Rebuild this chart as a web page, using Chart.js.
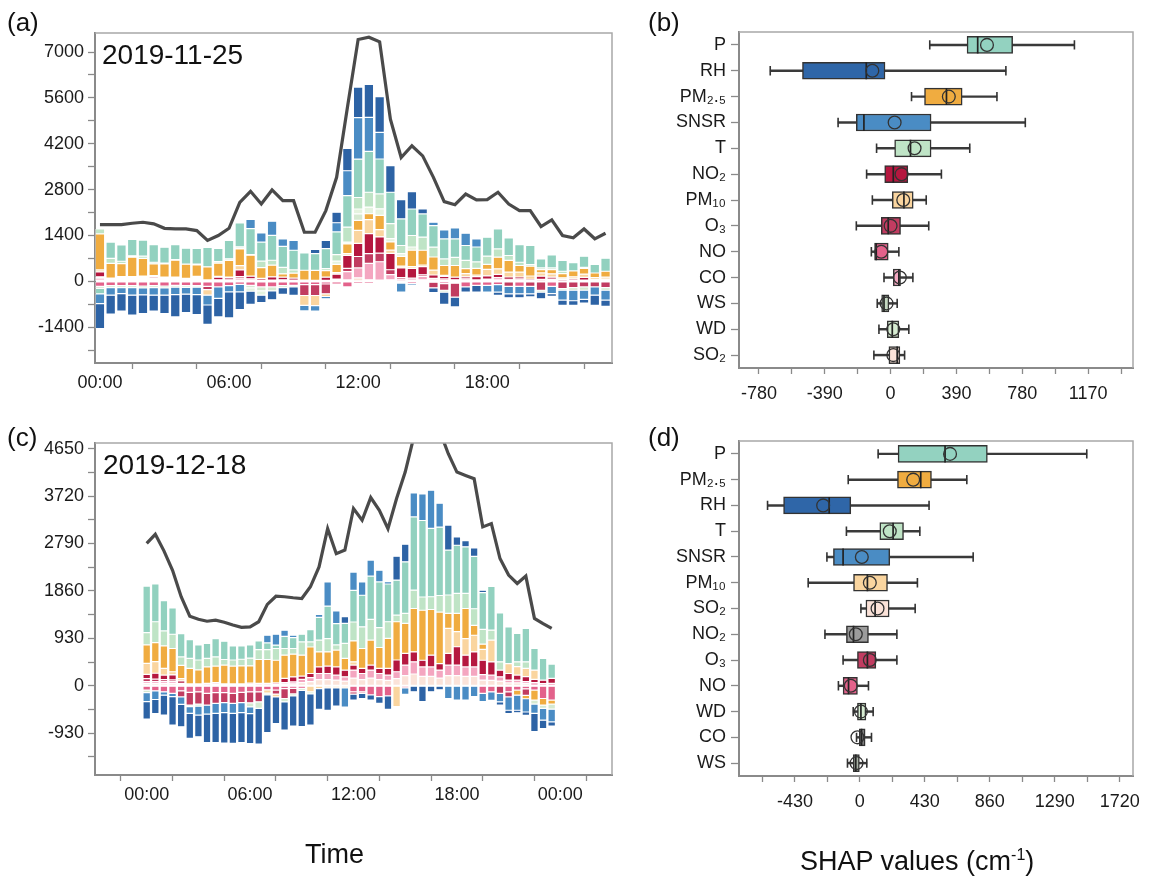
<!DOCTYPE html>
<html><head><meta charset="utf-8">
<script src="https://cdn.jsdelivr.net/npm/chart.js@4/dist/chart.umd.min.js"></script>
<style>
body{margin:0;width:1168px;height:878px;background:#fff;position:relative;overflow:hidden;font-family:"Liberation Sans",Arial,sans-serif;color:#111;}
canvas{position:absolute;}
.t{position:absolute;line-height:1;white-space:nowrap;}
</style></head><body>
<canvas id="ca" width="640" height="400" style="left:0;top:0"></canvas>
<canvas id="cb" width="548" height="420" style="left:620px;top:0"></canvas>
<canvas id="cc" width="640" height="458" style="left:0;top:420px"></canvas>
<canvas id="cd" width="548" height="458" style="left:620px;top:420px"></canvas>
<div class="t" style="left:7px;top:9px;font-size:26px">(a)</div>
<div class="t" style="left:648px;top:9px;font-size:26px">(b)</div>
<div class="t" style="left:7px;top:424px;font-size:26px">(c)</div>
<div class="t" style="left:648px;top:424px;font-size:26px">(d)</div>
<div class="t" style="left:102px;top:41px;font-size:28px">2019-11-25</div>
<div class="t" style="left:103px;top:451px;font-size:28px">2019-12-18</div>
<div class="t" style="left:305px;top:841px;font-size:27px">Time</div>
<div class="t" style="left:800px;top:847px;font-size:27px">SHAP values (cm<sup style="font-size:16px">-1</sup>)</div>
<script>
// ---------- data ----------
const hours = [0,0.5,1,1.5,2,2.5,3,3.5,4,4.5,5,5.5,6,6.5,7,7.5,8,8.5,9,9.5,10,10.5,11,11.5,12,12.5,13,13.5,14,14.5,15,15.5,16,16.5,17,17.5,18,18.5,19,19.5,20,20.5,21,21.5,22,22.5,23,23.5];
const featureNames = ['SO2','CO','NO','O3','NO2','PM10','PM2.5','WS','WD','T','P','SNSR','RH'];

// panel (a) 2019-11-25
const aSO2 = [40,20,30,30,30,40,30,25,20,25,15,25,20,40,30,0,0,0,0,0,0,0,0,46,110,50,40,50,0,40,50,45,25,20,30,0,30,45,25,30,0,0,30,0,0,0,0,0];
const aCO = [60,20,30,30,30,40,30,30,20,30,15,25,30,60,50,40,40,50,40,20,15,30,30,250,300,500,560,155,65,60,100,50,50,30,50,45,40,70,40,45,25,60,40,20,30,40,17,30];
const aNO = [-150,-130,-130,-130,-140,-130,-140,-120,-130,-130,-150,-170,-130,-90,-120,-170,-170,-130,-120,-100,-100,-80,-80,-170,-70,-70,-20,-20,-50,-70,-20,-25,-70,-55,-170,-120,-120,-100,0,-150,0,0,-150,0,0,0,0,0];
const aO3 = [40,20,25,30,30,30,25,20,15,30,-100,0,0,50,0,0,0,0,0,-330,-330,-300,40,100,350,300,260,150,50,0,50,-170,-200,-425,0,0,0,0,-150,0,-150,-270,0,-220,-190,-170,-170,-190];
const aNO2 = [150,20,30,30,40,40,25,40,20,40,15,80,60,200,80,50,100,80,60,20,20,100,150,400,400,610,500,500,300,300,250,100,80,80,60,100,100,100,70,60,40,100,60,40,50,80,40,40];
const aPM10 = [60,20,30,30,30,30,25,20,20,30,-170,25,20,130,0,0,0,0,0,-300,-310,-80,50,50,400,425,220,100,50,50,50,150,30,0,100,50,200,170,150,150,100,100,100,50,60,100,60,60];
const aPM25 = [1100,450,400,590,540,355,400,510,430,350,400,400,510,510,640,330,355,100,150,300,300,200,250,300,300,180,435,250,300,500,450,400,300,355,150,200,150,355,355,200,300,100,130,130,180,180,140,180];
const aWS = [-60,-60,-60,-60,-60,-60,-60,-55,-50,-45,0,0,0,0,-80,-120,-120,-60,-50,0,0,0,0,0,200,0,0,0,0,0,0,0,-60,0,0,0,0,0,0,0,0,-60,0,-50,-80,-100,0,-80];
const aWD = [0,0,0,0,0,0,0,0,0,0,0,0,0,15,-100,-130,0,0,0,0,0,0,100,50,150,200,200,100,80,100,0,0,0,0,0,0,0,0,0,0,0,0,0,0,0,0,0,0];
const aT = [150,150,70,40,70,50,20,20,0,20,0,50,50,50,20,200,150,200,100,0,0,60,200,460,350,455,455,455,250,350,400,300,200,250,250,200,250,250,150,100,50,50,50,70,0,25,0,0];
const aP = [-170,500,500,500,490,540,490,460,490,480,590,400,560,730,790,580,760,640,600,530,510,610,690,960,1170,1250,1065,960,810,810,710,660,610,560,455,455,580,610,540,540,580,280,400,330,250,345,260,400];
const aSNSR = [-300,-230,-180,-230,-210,-230,-220,-230,-210,-230,-300,-350,-190,-230,280,280,430,230,300,-170,-170,-70,280,760,1270,1035,810,0,-275,-50,0,100,275,335,375,250,-205,-225,-230,-230,-230,0,-220,-300,-320,-280,-250,-300];
const aRH = [-760,-580,-540,-610,-570,-490,-560,-680,-560,-610,-590,-565,-795,-540,-400,-230,-270,-205,-255,0,130,250,320,680,930,1010,1095,810,590,530,150,-150,-370,-300,-155,-205,0,-100,-120,-120,-95,-200,-85,-160,-140,-110,-310,-190];
const lineA = [1735,1735,1735,1775,1805,1755,1620,1600,1600,1550,1250,1400,1620,2410,2750,2360,2790,2465,2465,1500,1500,2160,3175,5300,7380,7450,7310,4950,3780,4140,3830,3175,2435,2340,2665,2485,2495,2720,2360,2160,2160,1675,1875,1400,1330,1600,1300,1470];
const aYTicks = [-2100,-1400,-700,0,700,1400,2100,2800,3500,4200,4900,5600,6300,7000];
const aYLabels = [-1400,0,1400,2800,4200,5600,7000];
const aXTicks = [0,3,6,9,12,15,18,21];

// panel (c) 2019-12-18
const cSO2 = [40,40,40,40,25,15,15,20,30,15,15,15,25,20,20,25,30,35,60,80,120,120,110,90,150,120,150,120,105,140,200,230,185,185,150,200,200,185,185,110,105,90,55,55,40,0,0,0];
const cCO = [40,40,40,40,20,20,20,25,30,20,20,20,25,25,25,30,30,40,65,80,120,120,100,85,155,120,155,120,105,135,205,240,185,185,155,205,205,185,185,110,105,85,55,55,40,60,40,45];
const cNO = [-85,-100,-120,-150,-100,-130,-120,-150,-135,-135,-150,-130,-120,-120,-80,-85,-55,-50,-50,0,0,0,0,0,-120,-120,-180,-215,-200,0,-40,0,0,0,0,0,0,0,0,-150,-120,0,-120,-85,-60,-85,-250,-280];
const cO3 = [60,50,40,35,-120,-250,-240,-230,-210,-195,-195,-200,-215,-195,0,-80,-195,-110,0,0,0,0,0,0,-45,-30,0,0,0,0,0,0,0,0,0,0,0,0,0,0,0,-150,-100,0,-130,0,0,0];
const cNO2 = [85,115,90,100,50,0,0,0,0,0,0,0,0,0,0,0,85,100,65,80,130,145,160,130,100,100,100,100,130,230,230,195,130,230,130,230,360,230,295,280,260,130,130,100,100,65,70,100];
const cPM10 = [215,230,130,60,45,0,0,0,0,0,0,0,0,0,-65,-55,0,0,0,-120,-55,-40,-40,-40,65,0,0,0,0,-410,0,0,0,0,0,490,295,325,325,215,425,0,195,165,160,180,0,0];
const cPM25 = [360,370,440,455,260,305,275,325,325,370,350,355,340,470,470,445,455,445,410,520,295,280,330,230,410,390,490,410,590,750,590,850,980,895,1010,295,360,590,195,100,0,0,0,-100,-65,-195,-130,-80];
const cWS = [-50,0,0,0,0,-30,-40,0,0,0,0,0,-80,-130,-35,0,-65,-40,-40,-40,0,0,0,0,0,0,0,0,0,0,0,0,0,0,0,0,0,0,0,0,0,0,0,0,0,-80,-65,-100];
const cWD = [0,0,0,0,0,0,0,0,0,0,0,0,0,0,0,0,0,0,0,0,0,0,0,0,0,0,0,0,0,0,0,0,0,0,0,0,0,0,0,0,0,0,0,0,0,0,0,0];
const cT = [240,410,295,280,165,195,195,165,180,110,120,130,150,195,195,230,130,110,260,100,230,260,100,295,370,425,405,390,325,130,195,360,260,250,325,360,390,295,325,290,195,165,0,95,130,0,0,0];
const cP = [915,740,595,515,455,370,295,295,360,360,275,260,260,170,130,65,240,215,150,240,445,635,420,395,620,620,850,895,740,685,1010,1435,1500,1340,1340,880,945,915,1025,720,860,960,720,555,655,425,425,280];
const cSNSR = [-175,-170,-65,-65,-145,-130,-175,-175,-195,-195,-195,-195,-130,0,150,215,120,45,0,0,60,475,250,-380,360,260,315,230,45,0,-130,470,520,750,470,-250,-280,-280,-215,-160,-165,-165,-260,-295,-260,-180,-230,-250];
const cRH = [-345,-275,-390,-555,-440,-490,-425,-560,-575,-600,-590,-590,-590,-700,-740,-520,-555,-590,-710,-610,-410,-440,-360,130,-115,-100,-100,-130,-265,470,345,-120,-310,-120,-80,490,165,120,170,50,0,-65,-65,-50,-65,-360,-165,-80];
const lineC = [2790,2970,2645,2265,1745,1365,1305,1265,1285,1245,1190,1145,1155,1255,1595,1755,1745,1725,1710,1940,2330,3080,2590,2660,3475,3245,3690,3440,3080,3670,4190,4880,5300,5300,5000,4550,4190,4125,4060,3115,3180,2495,2170,2005,2150,1320,1220,1125];
const cYTicks = [-1395,-930,-465,0,465,930,1395,1860,2325,2790,3255,3720,4185,4650];
const cYLabels = [-930,0,930,1860,2790,3720,4650];
const cXTicks = [-3,0,3,6,9,12,15,18,21,24,27];

// panel (b) SHAP distribution 2019-11-25
const bCats = ['P','RH','PM₂.₅','SNSR','T','NO₂','PM₁₀','O₃','NO','CO','WS','WD','SO₂'];
const bMin  = [232,-713,124,-311,-83,-142,-108,-203,-114,-39,-79,-69,-99];
const bQ1   = [453,-522,201,-203,24,-35,10,-55,-95,16,-53,-20,-10];
const bMed  = [516,-144,331,-158,118,16,79,-14,-85,49,-39,10,39];
const bMean = [571,-108,345,24,142,65,75,0,-55,55,-24,16,16];
const bQ3   = [723,-33,424,240,240,102,134,59,-14,59,-10,49,55];
const bMax  = [1089,683,630,798,469,301,211,226,49,132,39,108,83];
const bXTicks = [-780,-585,-390,-195,0,195,390,585,780,975,1170,1365];
const bXLabels = [-780,-390,0,390,780,1170];

// panel (d) SHAP distribution 2019-12-18
const dCats = ['P','PM₂.₅','RH','T','SNSR','PM₁₀','SO₂','NO₂','O₃','NO','WD','CO','WS'];
const dMin  = [121,-77,-611,-89,-218,-342,7,-231,-111,-142,-44,-22,-82];
const dQ1   = [253,249,-505,132,-175,-42,40,-89,-16,-111,-16,-4,-44];
const dMed  = [564,403,-203,220,-111,50,101,-42,50,-75,7,11,-27];
const dMean = [597,353,-243,198,13,66,117,-27,66,-60,7,-16,-22];
const dQ3   = [844,474,-60,289,198,183,194,57,106,-16,40,35,0];
const dMax  = [1502,708,458,397,750,381,366,245,245,57,88,77,46];
const dXTicks = [-645,-430,-215,0,215,430,645,860,1075,1290,1505,1720];
const dXLabels = [-430,0,430,860,1290,1720];

// ---------- styles ----------
const featureColors = {
  'SO2':'#fbe3d9','CO':'#f4a6c0','NO':'#e3628b','O3':'#c13c61','NO2':'#b5173f',
  'PM10':'#fad59f','PM2.5':'#f0ac40','WS':'#d5e9d1','WD':'#e4f3df','T':'#bfe4c6',
  'P':'#92d1bf','SNSR':'#4a8cc4','RH':'#2d63a5'
};
const bColors = ['#93d2c0','#2f66a8','#f0ac40','#4a8cc4','#bfe4c6','#b5173f','#fad59f','#c13c61','#e3628b','#f4a6c0','#c5d8c1','#d6ecd2','#fbe2d8'];
const dColors = ['#93d2c0','#f0ac40','#2f66a8','#bfe4c6','#4a8cc4','#fad59f','#fbe2d8','#9b9b9b','#c13c61','#e3628b','#d6ecd2','#808080','#a9b3a6'];

Chart.defaults.font.family = '"Liberation Sans", Arial, sans-serif';
Chart.defaults.color = '#1a1a1a';
const TICKFONT = {size: 18};
const AXIS = '#8a8a8a';

const framePlugin = {
  id: 'frame',
  afterDraw(chart) {
    const {ctx, chartArea: a} = chart;
    ctx.save();
    ctx.strokeStyle = '#a8a8a8';
    ctx.lineWidth = 1.5;
    ctx.beginPath();
    ctx.moveTo(a.left, a.top); ctx.lineTo(a.right, a.top); ctx.lineTo(a.right, a.bottom);
    ctx.stroke();
    ctx.restore();
  }
};

function hhmm(v) {
  const h = ((Math.round(v) % 24) + 24) % 24;
  return (h < 10 ? '0' : '') + h + ':00';
}
const setTicks = vals => s => { s.ticks = vals.map(v => ({value: v})); };

function stackChart(id, series, line, cfg) {
  const datasets = featureNames.map((n, i) => ({
    type: 'bar', label: n, data: series[i], backgroundColor: featureColors[n],
    borderColor: 'rgba(255,255,255,0.8)', borderWidth: 0.6, borderSkipped: false,
    barPercentage: cfg.barPct, categoryPercentage: 1, stack: 'shap', order: 1
  }));
  datasets.push({
    type: 'line', label: 'obs', data: line, borderColor: '#4a4a4a', borderWidth: 3.2,
    pointRadius: 0, tension: 0, stack: 'line', order: -1, fill: false
  });
  new Chart(document.getElementById(id), {
    type: 'bar',
    data: {labels: hours, datasets},
    options: {
      responsive: false, animation: false, devicePixelRatio: 1,
      layout: {padding: {left: 0, top: cfg.top, right: cfg.right, bottom: 0}},
      plugins: {legend: {display: false}, tooltip: {enabled: false}},
      scales: {
        x: {
          type: 'linear', min: cfg.xMin, max: cfg.xMax, offset: false, stacked: true,
          afterBuildTicks: setTicks(cfg.xTicks),
          afterFit: s => { s.height = cfg.xH; },
          ticks: {autoSkip: false, maxRotation: 0, minRotation: 0, font: TICKFONT, padding: cfg.xPad,
                  callback: v => (Math.round(v) % 6 === 0 ? hhmm(v) : '')},
          grid: {drawOnChartArea: false, tickLength: 6, color: AXIS, tickWidth: 1.3},
          border: {color: AXIS, width: 2}
        },
        y: {
          type: 'linear', min: cfg.yMin, max: cfg.yMax, stacked: true,
          afterBuildTicks: setTicks(cfg.yTicks),
          afterFit: s => { s.width = 95; },
          ticks: {autoSkip: false, font: TICKFONT, padding: 4,
                  callback: v => (cfg.yLabels.includes(Math.round(v)) ? String(Math.round(v)) : '')},
          grid: {drawOnChartArea: false, tickLength: 7, color: AXIS, tickWidth: 1.3},
          border: {color: AXIS, width: 2}
        }
      }
    },
    plugins: [framePlugin]
  });
}

function boxChart(id, cats, mn, q1, med, mean, q3, mx, colors, cfg) {
  const caps = [];
  cats.forEach((c, i) => { caps.push({x: mn[i], y: c}); caps.push({x: mx[i], y: c}); });
  new Chart(document.getElementById(id), {
    type: 'bar',
    data: {
      labels: cats,
      datasets: [
        {type: 'bar', data: cats.map((c, i) => [mn[i], mx[i]]), backgroundColor: '#3a3a3a',
         barThickness: 1.8, grouped: false, order: 5},
        {type: 'bar', data: cats.map((c, i) => [q1[i], q3[i]]), backgroundColor: colors,
         borderColor: '#333', borderWidth: 1.5, borderSkipped: false, barThickness: 17, grouped: false, order: 4},
        {type: 'scatter', data: caps, pointStyle: 'line', rotation: 90, radius: 4.7,
         borderColor: '#333', borderWidth: 1.6, order: 3},
        {type: 'scatter', data: cats.map((c, i) => ({x: med[i], y: c})), pointStyle: 'line', rotation: 90,
         radius: 8.5, borderColor: '#222', borderWidth: 1.7, order: 2},
        {type: 'scatter', data: cats.map((c, i) => ({x: mean[i], y: c})), pointStyle: 'circle',
         radius: 6.4, backgroundColor: 'rgba(0,0,0,0)', borderColor: '#333', borderWidth: 1.3, order: 1}
      ]
    },
    options: {
      indexAxis: 'y', responsive: false, animation: false, devicePixelRatio: 1,
      layout: {padding: {left: 0, top: cfg.top, right: 35, bottom: 0}},
      plugins: {legend: {display: false}, tooltip: {enabled: false}},
      scales: {
        x: {
          type: 'linear', min: cfg.xMin, max: cfg.xMax,
          afterBuildTicks: setTicks(cfg.ticks),
          afterFit: s => { s.height = cfg.xH; },
          ticks: {autoSkip: false, maxRotation: 0, font: TICKFONT, padding: 9,
                  callback: v => (cfg.labels.includes(Math.round(v)) ? String(Math.round(v)) : '')},
          grid: {drawOnChartArea: false, tickLength: 6, color: AXIS, tickWidth: 1.3},
          border: {color: AXIS, width: 2}
        },
        y: {
          type: 'category', labels: cats, offset: true,
          afterFit: s => { s.width = 119; },
          ticks: {autoSkip: false, font: TICKFONT, padding: 5},
          grid: {drawOnChartArea: false, offset: false, tickLength: 8, color: AXIS, tickWidth: 1.3},
          border: {color: AXIS, width: 2}
        }
      }
    },
    plugins: [framePlugin]
  });
}

stackChart('ca', [aSO2,aCO,aNO,aO3,aNO2,aPM10,aPM25,aWS,aWD,aT,aP,aSNSR,aRH], lineA,
  {top: 33, right: 28, xH: 37, xMin: -0.23, xMax: 23.8, xTicks: aXTicks, xPad: 3,
   yMin: -2490, yMax: 7580, yTicks: aYTicks, yLabels: aYLabels, barPct: 0.88});
stackChart('cc', [cSO2,cCO,cNO,cO3,cNO2,cPM10,cPM25,cWS,cWD,cT,cP,cSNSR,cRH], lineC,
  {top: 23, right: 28, xH: 103, xMin: -3, xMax: 27, xTicks: cXTicks, xPad: 3,
   yMin: -1750, yMax: 4760, yTicks: cYTicks, yLabels: cYLabels, barPct: 0.87});
boxChart('cb', bCats, bMin, bQ1, bMed, bMean, bQ3, bMax, bColors,
  {top: 32, xH: 52, xMin: -898, xMax: 1436, ticks: bXTicks, labels: bXLabels});
boxChart('cd', dCats, dMin, dQ1, dMed, dMean, dQ3, dMax, dColors,
  {top: 21, xH: 102, xMin: -800, xMax: 1808, ticks: dXTicks, labels: dXLabels});
</script>
</body></html>
